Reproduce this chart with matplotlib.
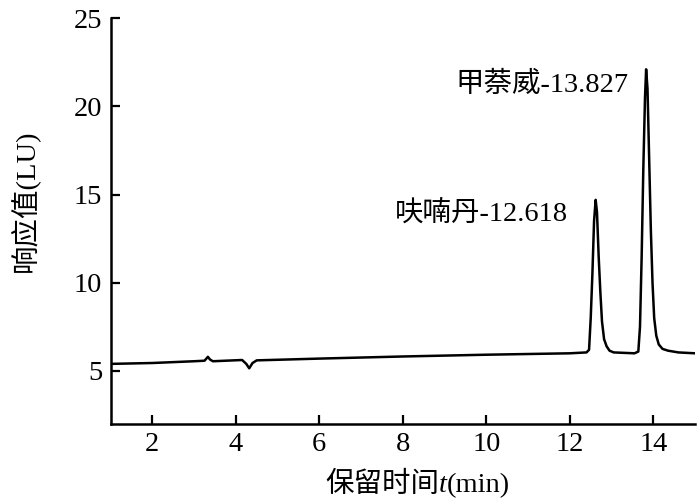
import matplotlib
matplotlib.use("Agg")
import matplotlib.pyplot as plt

plt.rcParams['font.family'] = ['Liberation Serif', 'Noto Sans CJK SC']

# Chromatogram
time_min = [1.0, 2.0, 3.0, 3.25, 3.33, 3.38, 3.45, 4.15, 4.25, 4.32, 4.40, 4.50,
            6.0, 8.0, 10.0, 12.0, 12.40,
            12.46, 12.50, 12.54, 12.58, 12.618, 12.65, 12.69, 12.73, 12.77, 12.82,
            12.88, 12.95, 13.05, 13.55,
            13.64, 13.68, 13.72, 13.76, 13.80, 13.827, 13.86, 13.90, 13.94, 13.98,
            14.02, 14.07, 14.13, 14.22, 14.35, 14.6, 15.0]
signal_lu = [5.40, 5.45, 5.55, 5.58, 5.80, 5.65, 5.55, 5.62, 5.40, 5.15, 5.45, 5.60,
             5.70, 5.82, 5.92, 6.00, 6.05,
             6.20, 8.00, 10.5, 13.5, 14.7, 14.0, 11.5, 9.5, 7.8, 6.8,
             6.4, 6.15, 6.05, 6.00,
             6.10, 7.5, 11.5, 16.5, 20.5, 22.1, 21.0, 17.0, 13.0, 10.0,
             8.0, 7.0, 6.5, 6.25, 6.15, 6.05, 6.00]

peak_labels = ['呋喃丹-12.618', '甲萘威-13.827']
label_x = [11.95, 13.40]
label_y = [13.9, 21.2]

x_ticks = [2, 4, 6, 8, 10, 12, 14]
y_ticks = [5, 10, 15, 20, 25]

FS = 20.5

fig = plt.figure(figsize=(7.0, 5.04), dpi=100)
ax = fig.add_axes([0.158, 0.159, 0.835, 0.805])

ax.plot(time_min, signal_lu, color='black', lw=1.8)

for t, x, y in zip(peak_labels, label_x, label_y):
    ax.text(x, y, t, ha='right', va='center', fontsize=FS)

ax.set_xlim(1, 15)
ax.set_ylim(2, 25)
ax.set_xticks(x_ticks)
ax.set_yticks(y_ticks)

for s in ['top', 'right']:
    ax.spines[s].set_visible(False)
for s in ['left', 'bottom']:
    ax.spines[s].set_linewidth(1.8)

ax.tick_params(direction='in', length=6.5, width=1.6, labelsize=FS, pad=6)

# x label: "保留时间" + italic t + "(min)", all on one baseline
base_y = 12 / 504
parts = [('保留时间', 'normal'), ('t', 'italic'), ('(min)', 'normal')]
x_pos = 325 / 700
fig.canvas.draw()
renderer = fig.canvas.get_renderer()
for txt, st in parts:
    tt = fig.text(x_pos, base_y, txt, fontsize=FS, style=st, ha='left', va='baseline')
    bb = tt.get_window_extent(renderer=renderer)
    x_pos = bb.x1 / fig.bbox.width

# y label
fig.text(25 / 700, 1 - 272 / 504, '响应值(LU)', fontsize=FS, rotation=90,
         ha='center', va='bottom')

fig.savefig('out.png', dpi=100)
